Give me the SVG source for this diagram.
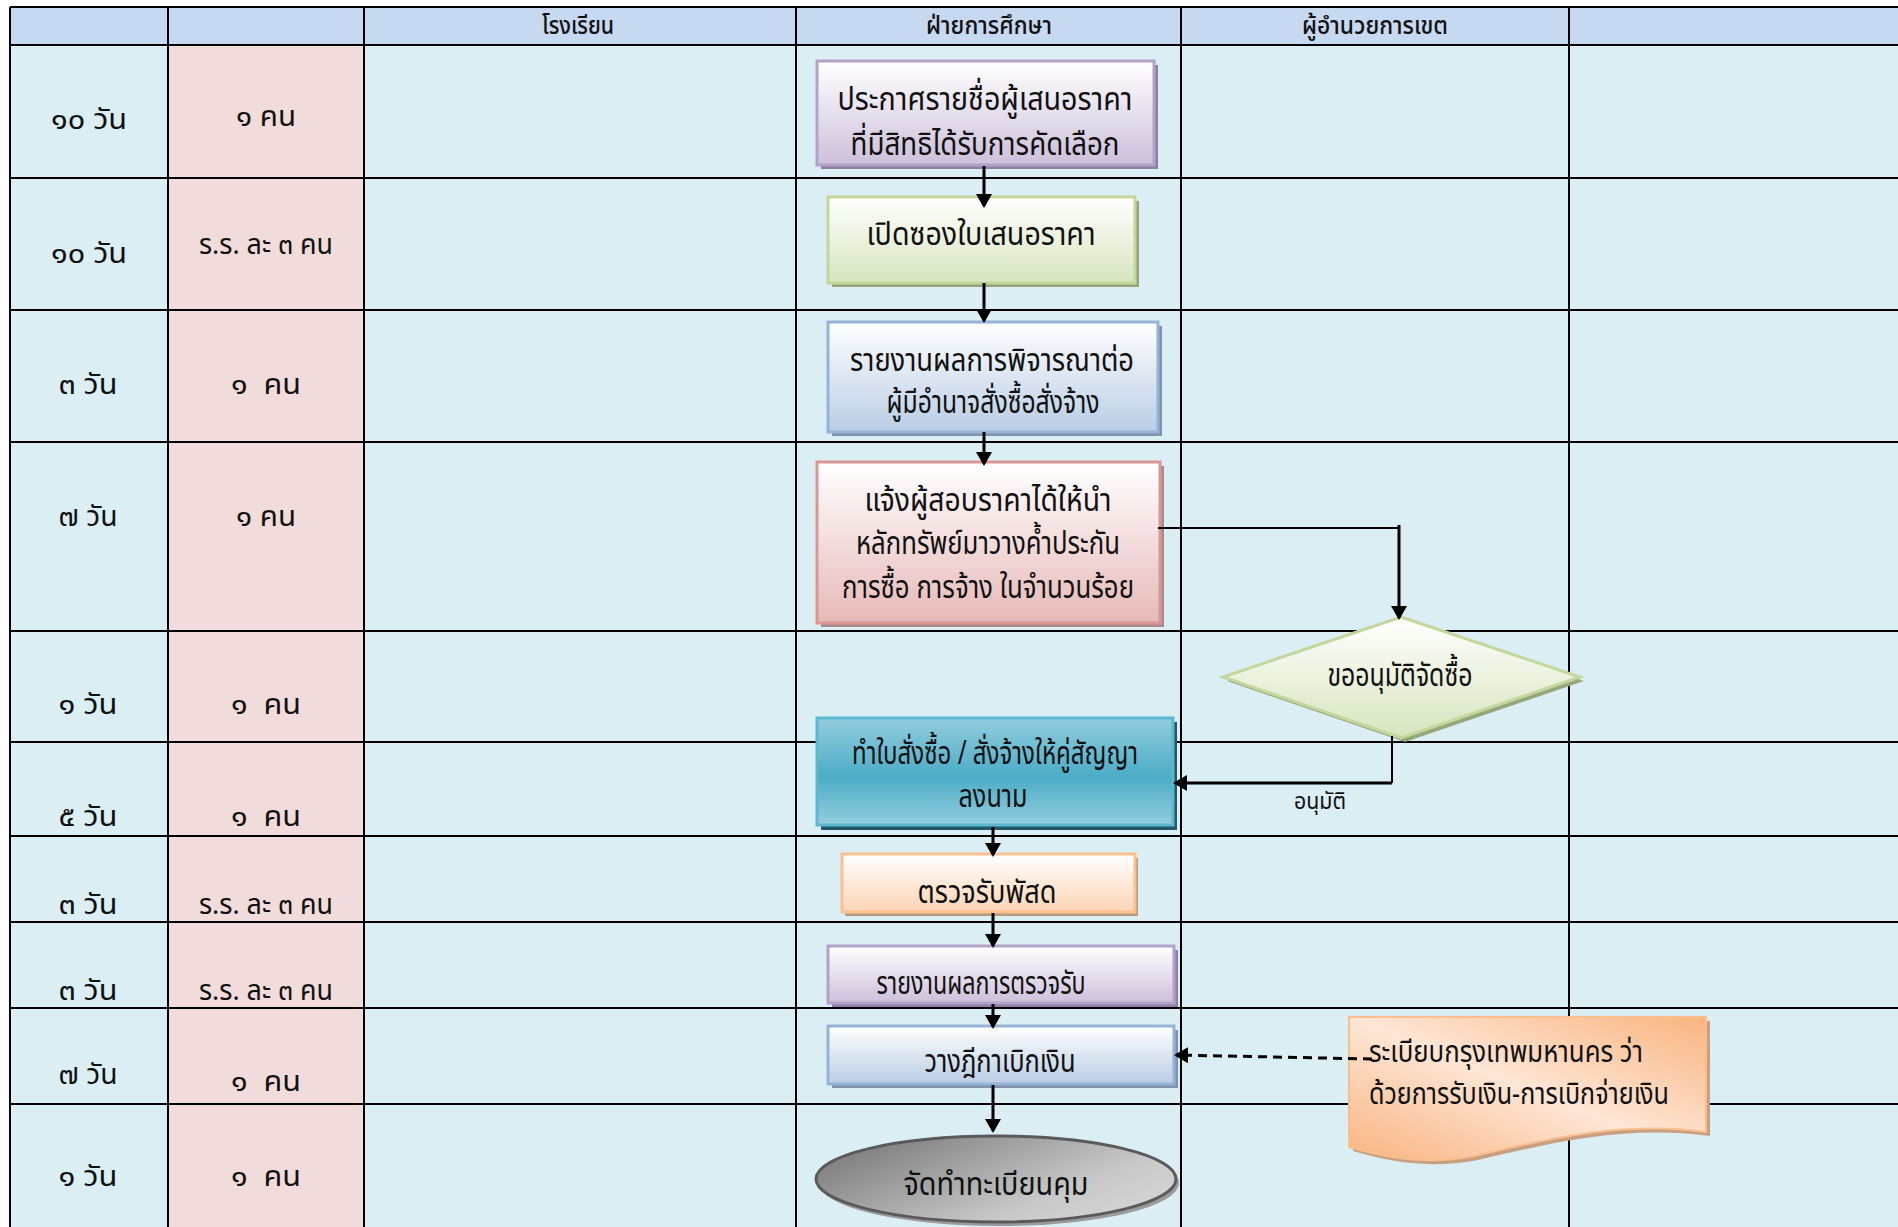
<svg xmlns="http://www.w3.org/2000/svg" width="1898" height="1227" viewBox="0 0 1898 1227">
  <style>
    text { font-family: "Noto Sans Thai", "Noto Sans", "DejaVu Sans", "Noto Sans CJK SC", sans-serif; fill: #111; }
    .hd { font-size: 24px; font-weight: 500; text-anchor: middle; }
    .lb { font-size: 28px; text-anchor: middle; white-space: pre; }
    .bx { font-size: 32px; text-anchor: middle; }
    .dc { font-size: 31px; }
    .sm { font-size: 23px; text-anchor: middle; }
    .grid { stroke: #000; stroke-width: 2; }
    .flow { stroke: #000; stroke-width: 3; fill: none; }
    .thin { stroke-width: 2; }
  </style>
  <defs>
    <marker id="arrow" viewBox="0 0 14 16" refX="12" refY="8" markerWidth="14" markerHeight="16" markerUnits="userSpaceOnUse" orient="auto">
      <path d="M0,0 L14,8 L0,16 z" fill="#000"/>
    </marker>
    <linearGradient id="gPurple" x1="0" y1="0" x2="0" y2="1">
      <stop offset="0" stop-color="#ffffff"/><stop offset="1" stop-color="#ccc0da"/>
    </linearGradient>
    <linearGradient id="gGreen" x1="0" y1="0" x2="0" y2="1">
      <stop offset="0" stop-color="#ffffff"/><stop offset="1" stop-color="#d7e4bd"/>
    </linearGradient>
    <linearGradient id="gBlue" x1="0" y1="0" x2="0" y2="1">
      <stop offset="0" stop-color="#ffffff"/><stop offset="1" stop-color="#b9cde5"/>
    </linearGradient>
    <linearGradient id="gRed" x1="0" y1="0" x2="0" y2="1">
      <stop offset="0" stop-color="#ffffff"/><stop offset="1" stop-color="#e6b9b8"/>
    </linearGradient>
    <linearGradient id="gTeal" x1="0" y1="0" x2="0" y2="1">
      <stop offset="0" stop-color="#93cddd"/><stop offset="0.55" stop-color="#4bacc6"/><stop offset="1" stop-color="#93cddd"/>
    </linearGradient>
    <linearGradient id="gOrange" x1="0" y1="0" x2="0" y2="1">
      <stop offset="0" stop-color="#ffffff"/><stop offset="1" stop-color="#fcd5b5"/>
    </linearGradient>
    <linearGradient id="gGray" x1="0" y1="0.2" x2="1" y2="0.8">
      <stop offset="0" stop-color="#7a7a7a"/><stop offset="0.7" stop-color="#c8c8c8"/><stop offset="1" stop-color="#d6d6d6"/>
    </linearGradient>
    <linearGradient id="gDoc" x1="0" y1="1" x2="1" y2="0">
      <stop offset="0" stop-color="#f9b47f"/><stop offset="0.5" stop-color="#fde6d6"/><stop offset="1" stop-color="#f9b47f"/>
    </linearGradient>
  </defs>

  <!-- table: lanes and rows -->
  <g id="table">
    <rect x="10" y="45" width="1888" height="1182" fill="#daeef3"/>
    <rect x="168" y="45" width="196" height="1182" fill="#f2dcdb"/>
    <rect x="10" y="7" width="1888" height="38" fill="#c6d9f1"/>
    <g class="grid">
      <line x1="10" y1="7" x2="1898" y2="7"/>
      <line x1="10" y1="45" x2="1898" y2="45"/>
      <line x1="10" y1="178" x2="1898" y2="178"/>
      <line x1="10" y1="310" x2="1898" y2="310"/>
      <line x1="10" y1="442" x2="1898" y2="442"/>
      <line x1="10" y1="631" x2="1898" y2="631"/>
      <line x1="10" y1="742" x2="1898" y2="742"/>
      <line x1="10" y1="836" x2="1898" y2="836"/>
      <line x1="10" y1="922" x2="1898" y2="922"/>
      <line x1="10" y1="1008" x2="1898" y2="1008"/>
      <line x1="10" y1="1104" x2="1898" y2="1104"/>
      <line x1="10" y1="7" x2="10" y2="1227"/>
      <line x1="168" y1="7" x2="168" y2="1227"/>
      <line x1="364" y1="7" x2="364" y2="1227"/>
      <line x1="796" y1="7" x2="796" y2="1227"/>
      <line x1="1181" y1="7" x2="1181" y2="1227"/>
      <line x1="1569" y1="7" x2="1569" y2="1227"/>
    </g>
    <text class="hd" x="578" y="34" textLength="72" lengthAdjust="spacingAndGlyphs">โรงเรียน</text>
    <text class="hd" x="989" y="34" textLength="126" lengthAdjust="spacingAndGlyphs">ฝ่ายการศึกษา</text>
    <text class="hd" x="1375" y="34" textLength="146" lengthAdjust="spacingAndGlyphs">ผู้อำนวยการเขต</text>

    <text class="lb" x="89" y="129" textLength="76" lengthAdjust="spacingAndGlyphs">๑๐ วัน</text>
    <text class="lb" x="89" y="263" textLength="76" lengthAdjust="spacingAndGlyphs">๑๐ วัน</text>
    <text class="lb" x="88" y="394" textLength="59" lengthAdjust="spacingAndGlyphs">๓ วัน</text>
    <text class="lb" x="88" y="526" textLength="59" lengthAdjust="spacingAndGlyphs">๗ วัน</text>
    <text class="lb" x="88" y="714" textLength="59" lengthAdjust="spacingAndGlyphs">๑ วัน</text>
    <text class="lb" x="88" y="826" textLength="59" lengthAdjust="spacingAndGlyphs">๕ วัน</text>
    <text class="lb" x="88" y="914" textLength="59" lengthAdjust="spacingAndGlyphs">๓ วัน</text>
    <text class="lb" x="88" y="1000" textLength="59" lengthAdjust="spacingAndGlyphs">๓ วัน</text>
    <text class="lb" x="88" y="1084" textLength="59" lengthAdjust="spacingAndGlyphs">๗ วัน</text>
    <text class="lb" x="88" y="1186" textLength="59" lengthAdjust="spacingAndGlyphs">๑ วัน</text>

    <text class="lb" x="266" y="126" textLength="60" lengthAdjust="spacingAndGlyphs">๑ คน</text>
    <text class="lb" x="266" y="254" textLength="134" lengthAdjust="spacingAndGlyphs">ร.ร. ละ ๓ คน</text>
    <text class="lb" x="266" y="394" textLength="70" lengthAdjust="spacingAndGlyphs">๑  คน</text>
    <text class="lb" x="266" y="526" textLength="60" lengthAdjust="spacingAndGlyphs">๑ คน</text>
    <text class="lb" x="266" y="714" textLength="70" lengthAdjust="spacingAndGlyphs">๑  คน</text>
    <text class="lb" x="266" y="826" textLength="70" lengthAdjust="spacingAndGlyphs">๑  คน</text>
    <text class="lb" x="266" y="914" textLength="134" lengthAdjust="spacingAndGlyphs">ร.ร. ละ ๓ คน</text>
    <text class="lb" x="266" y="1000" textLength="134" lengthAdjust="spacingAndGlyphs">ร.ร. ละ ๓ คน</text>
    <text class="lb" x="266" y="1091" textLength="70" lengthAdjust="spacingAndGlyphs">๑  คน</text>
    <text class="lb" x="266" y="1186" textLength="70" lengthAdjust="spacingAndGlyphs">๑  คน</text>
  </g>

  <!-- process nodes -->
  <g id="announce">
    <rect x="821" y="65" width="337" height="104" fill="#8f80a6"/>
    <rect x="817" y="61" width="337" height="104" fill="url(#gPurple)" stroke="#b3a2c7" stroke-width="3"/>
    <text class="bx" x="985" y="110" textLength="295" lengthAdjust="spacingAndGlyphs">ประกาศรายชื่อผู้เสนอราคา</text>
    <text class="bx" x="985" y="155" textLength="269" lengthAdjust="spacingAndGlyphs">ที่มีสิทธิได้รับการคัดเลือก</text>
  </g>
  <g id="open-bids">
    <rect x="832" y="201" width="307" height="86" fill="#97a57a"/>
    <rect x="828" y="197" width="307" height="86" fill="url(#gGreen)" stroke="#c3d69b" stroke-width="3"/>
    <text class="bx" x="981" y="245" textLength="229" lengthAdjust="spacingAndGlyphs">เปิดซองใบเสนอราคา</text>
  </g>
  <g id="report">
    <rect x="832" y="326" width="330" height="110" fill="#7f93ad"/>
    <rect x="828" y="322" width="330" height="110" fill="url(#gBlue)" stroke="#95b3d7" stroke-width="3"/>
    <text class="bx" x="992" y="371" textLength="284" lengthAdjust="spacingAndGlyphs">รายงานผลการพิจารณาต่อ</text>
    <text class="bx" x="993" y="413" textLength="213" lengthAdjust="spacingAndGlyphs">ผู้มีอำนาจสั่งซื้อสั่งจ้าง</text>
  </g>
  <g id="notify">
    <rect x="821" y="466" width="343" height="161" fill="#a88a8a"/>
    <rect x="817" y="462" width="343" height="161" fill="url(#gRed)" stroke="#d99694" stroke-width="3"/>
    <text class="bx" x="988" y="511" textLength="247" lengthAdjust="spacingAndGlyphs">แจ้งผู้สอบราคาได้ให้นำ</text>
    <text class="bx" x="988" y="554" textLength="264" lengthAdjust="spacingAndGlyphs">หลักทรัพย์มาวางค้ำประกัน</text>
    <text class="bx" x="988" y="598" textLength="292" lengthAdjust="spacingAndGlyphs">การซื้อ การจ้าง ในจำนวนร้อย</text>
  </g>
  <g id="approve">
    <polygon points="1405,621 1584,681 1405,742 1227,681" fill="#97a57a"/>
    <polygon points="1401,617 1580,677 1401,738 1223,677" fill="url(#gGreen)" stroke="#c3d69b" stroke-width="3"/>
    <text class="bx" x="1400" y="686" textLength="145" lengthAdjust="spacingAndGlyphs">ขออนุมัติจัดซื้อ</text>
  </g>
  <g id="order">
    <rect x="821" y="722" width="356" height="108" fill="#215968"/>
    <rect x="817" y="718" width="356" height="107" fill="url(#gTeal)" stroke="#5db7cf" stroke-width="3"/>
    <text class="bx" x="995" y="764" textLength="286" lengthAdjust="spacingAndGlyphs">ทำใบสั่งซื้อ / สั่งจ้างให้คู่สัญญา</text>
    <text class="bx" x="993" y="807" textLength="69" lengthAdjust="spacingAndGlyphs">ลงนาม</text>
  </g>
  <g id="inspect">
    <rect x="845" y="858" width="293" height="58" fill="#b89a7c"/>
    <rect x="842" y="854" width="293" height="58" fill="url(#gOrange)" stroke="#fac090" stroke-width="3"/>
    <text class="bx" x="987" y="903" textLength="139" lengthAdjust="spacingAndGlyphs">ตรวจรับพัสด</text>
  </g>
  <g id="inspect-report">
    <rect x="832" y="950" width="346" height="57" fill="#8f80a6"/>
    <rect x="828" y="946" width="346" height="57" fill="url(#gPurple)" stroke="#b3a2c7" stroke-width="3"/>
    <text class="bx" x="981" y="994" textLength="209" lengthAdjust="spacingAndGlyphs">รายงานผลการตรวจรับ</text>
  </g>
  <g id="withdraw">
    <rect x="832" y="1030" width="346" height="58" fill="#7f93ad"/>
    <rect x="828" y="1026" width="346" height="58" fill="url(#gBlue)" stroke="#95b3d7" stroke-width="3"/>
    <text class="bx" x="1000" y="1072" textLength="151" lengthAdjust="spacingAndGlyphs">วางฎีกาเบิกเงิน</text>
  </g>
  <g id="register">
    <ellipse cx="999" cy="1183" rx="180" ry="43" fill="#9a9a9a"/>
    <ellipse cx="996" cy="1179" rx="180" ry="43" fill="url(#gGray)" stroke="#5a5a5a" stroke-width="3"/>
    <text class="bx" x="996" y="1195" textLength="185" lengthAdjust="spacingAndGlyphs">จัดทำทะเบียนคุม</text>
  </g>
  <g id="regulation">
    <path d="M1353,1021 H1710 V1136 C1620,1124 1540,1146 1478,1160 C1425,1170 1385,1160 1353,1151 Z" fill="#c8a080"/>
    <path d="M1349,1017 H1706 V1132 C1616,1120 1536,1142 1474,1156 C1421,1166 1381,1156 1349,1147 Z" fill="url(#gDoc)" stroke="#f9be8e" stroke-width="2"/>
    <text class="dc" x="1369" y="1062" textLength="274" lengthAdjust="spacingAndGlyphs">ระเบียบกรุงเทพมหานคร ว่า</text>
    <text class="dc" x="1369" y="1104" textLength="300" lengthAdjust="spacingAndGlyphs">ด้วยการรับเงิน-การเบิกจ่ายเงิน</text>
  </g>

  <!-- connectors -->
  <g id="connectors">
    <line class="flow" x1="984" y1="166" x2="984" y2="206" marker-end="url(#arrow)"/>
    <line class="flow" x1="984" y1="283" x2="984" y2="321" marker-end="url(#arrow)"/>
    <line class="flow" x1="984" y1="432" x2="984" y2="464" marker-end="url(#arrow)"/>
    <polyline class="flow thin" points="1158,528 1399,528"/>
    <line class="flow" x1="1399" y1="525" x2="1399" y2="618" marker-end="url(#arrow)"/>
    <polyline class="flow thin" points="1392,736 1392,783"/>
    <line class="flow" x1="1392" y1="783" x2="1175" y2="783" marker-end="url(#arrow)"/>
    <text class="sm" x="1320" y="809" textLength="52" lengthAdjust="spacingAndGlyphs">อนุมัติ</text>
    <line class="flow" x1="993" y1="827" x2="993" y2="855" marker-end="url(#arrow)"/>
    <line class="flow" x1="993" y1="913" x2="993" y2="946" marker-end="url(#arrow)"/>
    <line class="flow" x1="993" y1="1004" x2="993" y2="1027" marker-end="url(#arrow)"/>
    <line class="flow" x1="993" y1="1085" x2="993" y2="1131" marker-end="url(#arrow)"/>
    <line class="flow" x1="1372" y1="1059" x2="1176" y2="1055" stroke-dasharray="9,6" marker-end="url(#arrow)"/>
  </g>
</svg>
